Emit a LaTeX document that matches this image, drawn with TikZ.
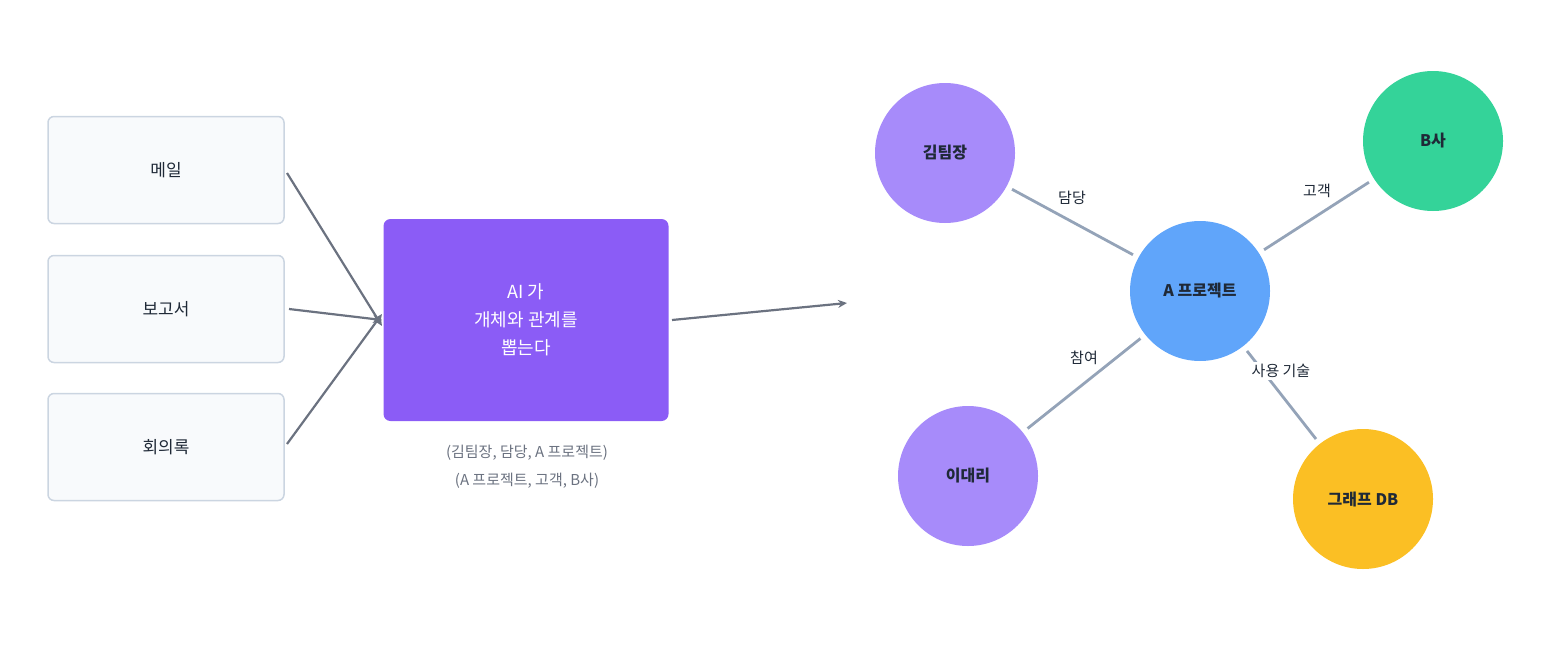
\documentclass[tikz,border=0pt]{standalone}
\usepackage{fontspec}
\setmainfont{Noto Sans CJK KR}
\usetikzlibrary{arrows.meta}
\definecolor{srcfill}{HTML}{F8FAFC}
\definecolor{srcline}{HTML}{CBD5E1}
\definecolor{aibox}{HTML}{8B5CF6}
\definecolor{arrowgray}{HTML}{6B7280}
\definecolor{edgegray}{HTML}{94A3B8}
\definecolor{person}{HTML}{A78BFA}
\definecolor{project}{HTML}{60A5FA}
\definecolor{company}{HTML}{34D399}
\definecolor{tech}{HTML}{FBBF24}
\definecolor{ink}{HTML}{1F2937}
\tikzset{
  source/.style={draw=srcline,line width=1.5pt,fill=srcfill,rounded corners=6pt,
    minimum width=236pt,minimum height=107pt,font=\fontsize{17pt}{20pt}\selectfont,text=ink},
  entity/.style={circle,minimum size=140pt,inner sep=0pt,
    font=\bfseries\fontsize{16pt}{19pt}\selectfont,text=ink},
  flow/.style={draw=arrowgray,line width=2.2pt,-{Stealth[length=9pt,width=8pt]}},
  rel/.style={draw=edgegray,line width=2.8pt,shorten <=6pt,shorten >=6pt},
  rellabel/.style={fill=white,inner sep=2pt,font=\fontsize{15pt}{18pt}\selectfont,text=ink}
}
\begin{document}
\begin{tikzpicture}[x=1pt,y=-1pt]
  \useasboundingbox (0,0) rectangle (1541,653);
  % sources
  \node[source] (mail) at (166,170) {메일};
  \node[source] (report) at (166,309) {보고서};
  \node[source] (minutes) at (166,447) {회의록};
  % extraction
  \node[fill=aibox,rounded corners=7pt,minimum width=285pt,minimum height=202pt,
    text=white,align=center,font=\fontsize{18pt}{28pt}\selectfont] (ai) at (526,320)
    {AI 가\\개체와 관계를\\뽑는다};
  \node[text=arrowgray,align=center,font=\fontsize{15pt}{28pt}\selectfont] (triples) at (527,467)
    {(김팀장, 담당, A 프로젝트)\\(A 프로젝트, 고객, B사)};
  \coordinate (mailout) at (287,173);
  \coordinate (reportout) at (289,309);
  \coordinate (minutesout) at (287,444);
  \coordinate (aiin) at (382,320);
  \draw[flow] (mailout) -- ([yshift=-6pt]aiin);
  \draw[flow] (reportout) -- (aiin);
  \draw[flow] (minutesout) -- ([yshift=6pt]aiin);
  \coordinate (aiout) at (672,320);
  \coordinate (graphin) at (847,303);
  \draw[flow] (aiout) -- (graphin);
  % graph
  \node[entity,fill=project] (proj) at (1200,291) {A 프로젝트};
  \node[entity,fill=person] (kim) at (945,153) {김팀장};
  \node[entity,fill=company] (bsa) at (1433,141) {B사};
  \node[entity,fill=person] (lee) at (968,476) {이대리};
  \node[entity,fill=tech] (gdb) at (1363,499) {그래프 DB};
  \draw[rel] (kim) -- (proj);
  \draw[rel] (bsa) -- (proj);
  \draw[rel] (lee) -- (proj);
  \draw[rel] (proj) -- (gdb);
  \node[rellabel] (lkim) at (1072,198) {담당};
  \node[rellabel] (lbsa) at (1317,191) {고객};
  \node[rellabel] (llee) at (1084,358) {참여};
  \node[rellabel] (lgdb) at (1281,371) {사용 기술};
\end{tikzpicture}
\end{document}
